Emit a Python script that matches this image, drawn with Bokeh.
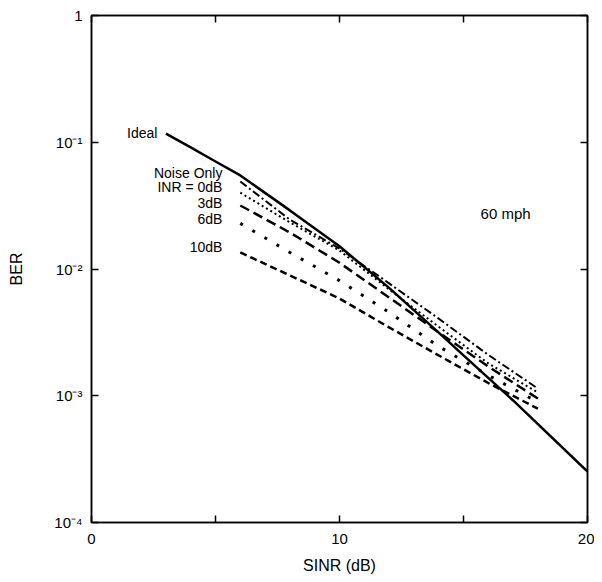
from bokeh.plotting import figure
from bokeh.models import (Range1d, FixedTicker, LinearAxis, LogAxis, ColumnDataSource)
from bokeh.core.properties import value
from bokeh.embed import file_html
from bokeh.resources import INLINE

# ---- data ----
ideal_x = [3, 4, 5, 6, 8, 10, 12, 14, 15, 17, 20]
ideal_y = [0.117, 0.091, 0.0705, 0.0547, 0.029, 0.0151, 0.0071, 0.00315, 0.00208, 0.000918, 0.000252]

sinr = [6, 8, 10, 12, 14, 16, 18]
noise_only = [0.049, 0.0245, 0.0145, 0.0077, 0.00406, 0.0021, 0.00114]
inr_0db = [0.040, 0.0233, 0.0140, 0.0069, 0.0035, 0.0018, 0.00106]
inr_3db = [0.0317, 0.0194, 0.0112, 0.00596, 0.00316, 0.0017, 0.00095]
inr_6db = [0.0229, 0.0135, 0.0081, 0.00455, 0.00245, 0.00145, 0.00089]
inr_10db = [0.0135, 0.0089, 0.00585, 0.00346, 0.00208, 0.00126, 0.00079]

x_label_ticks = [0, 10, 20]
x_unlabeled_ticks = [5, 15]
x_all_ticks = [0, 5, 10, 15, 20]
y_ticks = [1e-4, 1e-3, 1e-2, 1e-1, 1]
y_tick_labels = {1e-4: "10⁻⁴", 1e-3: "10⁻³", 1e-2: "10⁻²", 1e-1: "10⁻¹", 1: "1"}

curve_labels = ["Noise Only", "INR = 0dB", "3dB", "6dB", "10dB"]
curve_label_x = [5.28, 5.28, 5.28, 5.28, 5.28]
curve_label_y = [0.0577, 0.044, 0.0329, 0.025, 0.0148]

FONT = "Liberation Sans"

p = figure(width=594, height=582, output_backend="svg", toolbar_location=None,
           y_axis_type="log", x_range=Range1d(0, 20), y_range=Range1d(1e-4, 1),
           min_border_left=91, min_border_top=15, min_border_right=7, min_border_bottom=60)
p.grid.visible = False
p.outline_line_color = "black"
p.outline_line_width = 1.5
p.background_fill_color = "white"
p.border_fill_color = "white"

# axes
p.xaxis.ticker = FixedTicker(ticks=x_label_ticks, minor_ticks=x_unlabeled_ticks)
p.yaxis.ticker = FixedTicker(ticks=y_ticks)
p.yaxis.major_label_overrides = y_tick_labels
for ax in (p.xaxis[0], p.yaxis[0]):
    ax.major_tick_in = 7
    ax.major_tick_out = 0
    ax.minor_tick_in = 7
    ax.minor_tick_out = 0
    ax.axis_line_width = 1.5
    ax.major_tick_line_width = 1.5
    ax.minor_tick_line_width = 1.5
    ax.major_label_text_font = FONT
    ax.major_label_text_font_size = "15px"
    ax.major_label_text_color = "black"
    ax.axis_label_text_font = FONT
    ax.axis_label_text_font_size = "16px"
    ax.axis_label_text_font_style = "normal"
    ax.axis_label_text_color = "black"
p.yaxis.minor_tick_in = 0
p.xaxis.axis_label = "SINR (dB)"
p.yaxis.axis_label = "BER"
p.xaxis.major_label_standoff = 11
p.yaxis.major_label_standoff = 9
p.xaxis.axis_label_standoff = 10
p.yaxis.axis_label_standoff = 26

top = LinearAxis(ticker=FixedTicker(ticks=[], minor_ticks=x_all_ticks),
                 major_tick_in=0, major_tick_out=0, minor_tick_in=7, minor_tick_out=0,
                 axis_line_width=1.5, minor_tick_line_width=1.5)
right = LogAxis(ticker=FixedTicker(ticks=[], minor_ticks=y_ticks),
                major_tick_in=0, major_tick_out=0, minor_tick_in=7, minor_tick_out=0,
                axis_line_width=1.5, minor_tick_line_width=1.5)
p.add_layout(top, "above")
p.add_layout(right, "right")

# curves
p.line(ideal_x, ideal_y, line_color="black", line_width=2.5)
p.line(sinr, noise_only, line_color="black", line_width=2, line_dash="8 3 2 3")
p.line(sinr, inr_0db, line_color="black", line_width=2, line_dash="2 3")
p.line(sinr, inr_3db, line_color="black", line_width=2.5, line_dash="10 5")
p.line(sinr, inr_6db, line_color="black", line_width=3, line_dash="3 11")
p.line(sinr, inr_10db, line_color="black", line_width=2.5, line_dash="7 4")

# labels
p.text(x=[2.66], y=[0.119], text=["Ideal"], text_align="right", text_baseline="middle",
       text_font=value(FONT), text_font_size="14px", text_color="black")
src = ColumnDataSource(dict(x=curve_label_x, y=curve_label_y, t=curve_labels))
p.text(x="x", y="y", text="t", source=src, text_align="right", text_baseline="middle",
       text_font=value(FONT), text_font_size="14px", text_color="black")
p.text(x=[15.69], y=[0.0274], text=["60 mph"], text_align="left", text_baseline="middle",
       text_font=value(FONT), text_font_size="15px", text_color="black")

open("out.html", "w").write(file_html(p, INLINE))
